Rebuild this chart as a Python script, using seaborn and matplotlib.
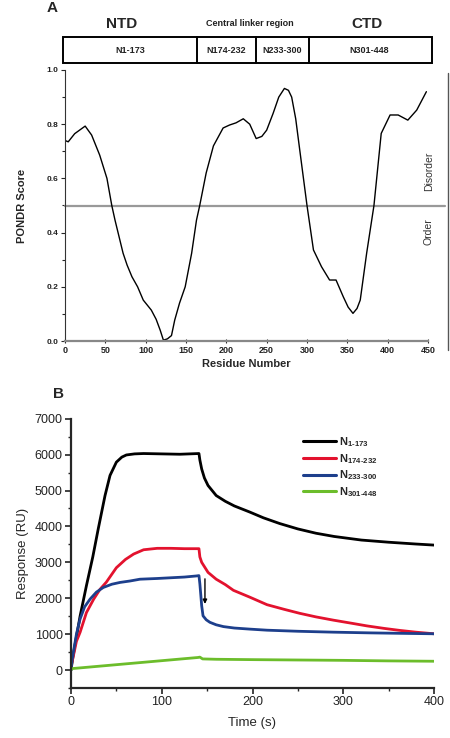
import numpy as np
import pandas as pd
import matplotlib
matplotlib.use("Agg")
import matplotlib.pyplot as plt
from matplotlib.patches import Rectangle
from matplotlib.lines import Line2D
from matplotlib.ticker import MultipleLocator
import seaborn as sns

# ---------------- Data: panel A (PONDR) ----------------
residue = [0, 4, 12, 25, 33, 43, 52, 58, 62, 72, 77, 83, 90, 97, 107, 113, 118, 122, 127,
           132, 136, 142, 149, 157, 163, 167, 175, 184, 196, 204, 212, 221, 229, 237, 244,
           250, 258, 265, 272, 277, 281, 286, 291, 300, 308, 318, 328, 336, 345, 351, 357,
           362, 366, 374, 383, 392, 403, 413, 425, 436, 448]
pondr = [0.74, 0.735, 0.765, 0.793, 0.76, 0.686, 0.60, 0.50, 0.446, 0.324, 0.28, 0.237, 0.20,
         0.151, 0.114, 0.08, 0.04, 0.003, 0.008, 0.02, 0.077, 0.14, 0.20, 0.324, 0.446, 0.50,
         0.62, 0.72, 0.786, 0.797, 0.805, 0.82, 0.80, 0.747, 0.755, 0.778, 0.84, 0.90, 0.932,
         0.925, 0.90, 0.82, 0.705, 0.50, 0.336, 0.274, 0.225, 0.225, 0.163, 0.125, 0.102,
         0.12, 0.151, 0.325, 0.50, 0.766, 0.834, 0.834, 0.815, 0.852, 0.92]
threshold = 0.5

domain_titles = ["NTD", "Central linker region", "CTD"]
segment_labels = ["N1-173", "N174-232", "N233-300", "N301-448"]

# ---------------- Data: panel B (SPR) ----------------
t_black = [0, 2, 4.4, 10, 17, 24, 30, 37.5, 43, 50, 56, 61, 70, 80, 100, 120, 141, 142, 144,
           147, 151, 160, 170, 180, 197, 212, 230, 250, 270, 290, 320, 350, 380, 400]
v_black = [0, 350, 700, 1500, 2350, 3150, 3930, 4860, 5420, 5790, 5930, 5990, 6020, 6030, 6020,
           6010, 6030, 5850, 5600, 5350, 5140, 4860, 4700, 4570, 4400, 4240, 4080, 3930, 3810,
           3720, 3620, 3560, 3510, 3480]
t_red = [0, 2, 6, 10, 17, 25, 32, 39, 50, 60, 69, 80, 95, 110, 125, 141, 142, 144, 151, 160,
         170, 179, 197, 216, 235, 252, 270, 289, 310, 326, 345, 362, 380, 400]
v_red = [100, 320, 800, 1050, 1600, 1975, 2250, 2450, 2850, 3080, 3230, 3350, 3390, 3390, 3380,
         3380, 3150, 3000, 2720, 2530, 2380, 2220, 2030, 1820, 1690, 1580, 1480, 1390, 1300,
         1230, 1160, 1105, 1055, 1010]
t_blue = [0, 1, 2.6, 6, 10, 15, 21, 28, 35.6, 45, 54, 65, 76, 95, 110, 125, 138, 141, 142, 143,
          144, 145.5, 149, 153, 160, 168, 180, 197, 216, 250, 289, 330, 370, 400]
v_blue = [0, 250, 490, 1000, 1420, 1760, 1975, 2170, 2300, 2390, 2440, 2480, 2530, 2550, 2570,
          2590, 2620, 2630, 2400, 2100, 1790, 1510, 1400, 1330, 1260, 1210, 1170, 1140, 1110,
          1080, 1055, 1035, 1020, 1010]
t_green = [0, 1, 140, 142, 145, 160, 200, 250, 300, 350, 400]
v_green = [0, 40, 350, 360, 310, 300, 290, 280, 270, 255, 245]

series_names = ["N$_{\\mathbf{1\\text{-}173}}$", "N$_{\\mathbf{174\\text{-}232}}$",
                "N$_{\\mathbf{233\\text{-}300}}$", "N$_{\\mathbf{301\\text{-}448}}$"]
series_colors = ["#000000", "#e3122e", "#1d3f8c", "#6cbd2b"]

# ---------------- Figure ----------------
sns.set_style("ticks")
plt.rcParams["font.family"] = ["Liberation Sans", "DejaVu Sans"]
plt.rcParams["mathtext.fontset"] = "custom"
plt.rcParams["mathtext.rm"] = "Liberation Sans:bold"
plt.rcParams["mathtext.bf"] = "Liberation Sans:bold"

W, H = 450, 738
fig = plt.figure(figsize=(W / 100, H / 100), dpi=100)


def fx(x):
    return x / W


def fy(y):
    return 1 - y / H


# ---- Panel A ----
axA = fig.add_axes([fx(65), fy(341), fx(428) - fx(65), fy(70) - fy(341)])
sns.lineplot(x=residue, y=pondr, ax=axA, color="black", lw=1.0)
axA.set_xlim(0, 450)
axA.set_ylim(0, 1.0)
axA.axhline(threshold, xmin=0, xmax=(445 - 65) / (428 - 65), color="#999999", lw=1.6,
            clip_on=False, zorder=1)
axA.xaxis.set_major_locator(MultipleLocator(50))
axA.yaxis.set_major_locator(MultipleLocator(0.2))
axA.yaxis.set_minor_locator(MultipleLocator(0.1))
axA.set_yticks([0, 0.2, 0.4, 0.6, 0.8, 1.0])
axA.set_yticklabels(["0.0", "0.2", "0.4", "0.6", "0.8", "1.0"])
for s in ["top", "right"]:
    axA.spines[s].set_visible(False)
axA.spines["left"].set_linewidth(0.8)
axA.spines["left"].set_color("#333333")
axA.spines["bottom"].set_linewidth(1.6)
axA.spines["bottom"].set_color("#888888")
axA.tick_params(axis="y", which="major", length=3, width=0.8, direction="out",
                labelsize=6, pad=2)
axA.tick_params(axis="y", which="minor", length=2, width=0.8, direction="out")
axA.tick_params(axis="x", which="major", length=3, width=0.8, direction="inout",
                labelsize=6.5, pad=2)
for lab in axA.get_xticklabels() + axA.get_yticklabels():
    lab.set_fontweight("bold")
    lab.set_color("#222222")
axA.set_xlabel("Residue Number", fontsize=8, fontweight="bold", labelpad=3)
axA.set_ylabel("PONDR Score", fontsize=8, fontweight="bold", labelpad=14)

# domain box above panel A
box_top, box_bot = fy(37), fy(63)
fig.add_artist(Rectangle((fx(63), box_bot), fx(432) - fx(63), box_top - box_bot,
                         fill=False, ec="black", lw=1.4, transform=fig.transFigure))
for xd in [197, 256, 309]:
    fig.add_artist(Line2D([fx(xd), fx(xd)], [box_bot, box_top], color="black", lw=1.4,
                          transform=fig.transFigure))
for lab, xc in zip(segment_labels, [130, 226, 282, 369]):
    fig.text(fx(xc), fy(50.5), lab, ha="center", va="center", fontsize=6.5,
             fontweight="bold", color="#222222")
fig.text(fx(122), fy(24), domain_titles[0], ha="center", va="center", fontsize=11,
         fontweight="bold")
fig.text(fx(250), fy(23), domain_titles[1], ha="center", va="center", fontsize=6.5,
         fontweight="bold", color="#222222")
fig.text(fx(367), fy(24), domain_titles[2], ha="center", va="center", fontsize=11,
         fontweight="bold")
fig.text(fx(52), fy(8), "A", ha="center", va="center", fontsize=11, fontweight="bold")

# right-side Disorder / Order annotation
fig.add_artist(Line2D([fx(448), fx(448)], [fy(73), fy(350)], color="#555555", lw=1.0,
                      transform=fig.transFigure))
fig.text(fx(429), fy(171), "Disorder", rotation=90, ha="center", va="center",
         fontsize=7.5, color="#333333")
fig.text(fx(429), fy(231.5), "Order", rotation=90, ha="center", va="center",
         fontsize=7.5, color="#333333")

# ---- Panel B ----
axB = fig.add_axes([fx(71), fy(688), fx(434) - fx(71), fy(418.7) - fy(688)])
frames = []
for name, tt, vv in zip(series_names, [t_black, t_red, t_blue, t_green],
                        [v_black, v_red, v_blue, v_green]):
    frames.append(pd.DataFrame({"Time": tt, "Response": vv, "Series": name}))
df = pd.concat(frames, ignore_index=True)
sns.lineplot(data=df, x="Time", y="Response", hue="Series", hue_order=series_names,
             palette=dict(zip(series_names, series_colors)), lw=2.0, ax=axB,
             sort=False, estimator=None)
axB.set_xlim(0, 400)
axB.set_ylim(-500, 7000)
axB.xaxis.set_major_locator(MultipleLocator(100))
axB.xaxis.set_minor_locator(MultipleLocator(50))
axB.yaxis.set_major_locator(MultipleLocator(1000))
axB.yaxis.set_minor_locator(MultipleLocator(500))
for s in ["top", "right"]:
    axB.spines[s].set_visible(False)
for s in ["left", "bottom"]:
    axB.spines[s].set_linewidth(1.6)
axB.tick_params(axis="both", which="major", length=4, width=1.2, direction="out",
                labelsize=9, pad=2, colors="#222222")
axB.tick_params(axis="both", which="minor", length=2.5, width=1.0, direction="out")
axB.set_xlabel("Time (s)", fontsize=9.5, labelpad=6)
axB.set_ylabel("Response (RU)", fontsize=9.5, labelpad=4)
axB.annotate("", xy=(147.6, 1840), xytext=(147.6, 2540),
             arrowprops=dict(arrowstyle="-|>", color="black", lw=1.0,
                             mutation_scale=6, shrinkA=0, shrinkB=0))
leg = axB.legend(loc="upper left", bbox_to_anchor=((299 - 71) / (434 - 71), 0.955),
                 frameon=False, prop={"weight": "bold", "size": 8}, handlelength=2.9,
                 handletextpad=0.3, labelspacing=0.25, borderaxespad=0)
for line in leg.get_lines():
    line.set_linewidth(2.2)
fig.text(fx(58), fy(394), "B", ha="center", va="center", fontsize=11, fontweight="bold")

fig.savefig("out.png", dpi=100)
